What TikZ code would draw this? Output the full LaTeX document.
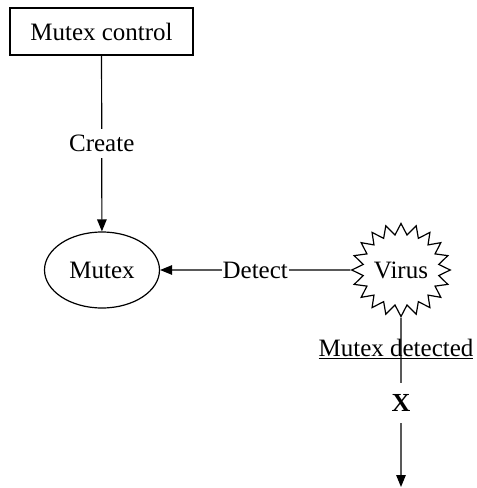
\documentclass[tikz,border=0pt]{standalone}
\usepackage{fontspec}
\setmainfont{Liberation Serif}
\usetikzlibrary{arrows.meta,shapes.geometric,shapes.symbols}
\begin{document}
\begin{tikzpicture}[x=1pt,y=-1pt,
  every node/.style={font=\fontsize{25}{30}\selectfont},
  conn/.style={line width=1.2pt},
  arr/.style={conn,-{Triangle[length=12pt,width=9.5pt]}},
  boxnode/.style={draw,line width=1.2pt,minimum width=183pt,minimum height=47pt,inner sep=0pt},
  ellnode/.style={draw,ellipse,line width=1.2pt,minimum width=115pt,minimum height=76pt,inner sep=0pt},
  burst/.style={draw,starburst,starburst points=20,starburst point height=11pt,random starburst=0,line width=1.2pt,minimum width=88pt,minimum height=93pt,inner sep=0pt},
  lbl/.style={fill=white,inner sep=2pt}]
\useasboundingbox (0,0) rectangle (477,488);
\node[boxnode] (ctrl) at (101.5,31.5) {Mutex control};
\node[ellnode] (mutex) at (102,270) {Mutex};
\node[burst] (virus) at (401,270) {Virus};
\coordinate (end) at (401,487);
\draw[arr] (ctrl) -- node[lbl,inner ysep=6pt] (create) {Create} (mutex);
\draw[arr] (virus) -- node[lbl,inner xsep=1pt] (detect) {Detect} (mutex);
\draw[arr] (virus) -- (end);
\node[inner sep=0pt] (mdet) at (396,349) {\underline{Mutex detected}};
\node[lbl,font=\fontsize{26}{30}\selectfont\bfseries,minimum height=40pt] (x) at (401,403) {X};
\end{tikzpicture}
\end{document}
